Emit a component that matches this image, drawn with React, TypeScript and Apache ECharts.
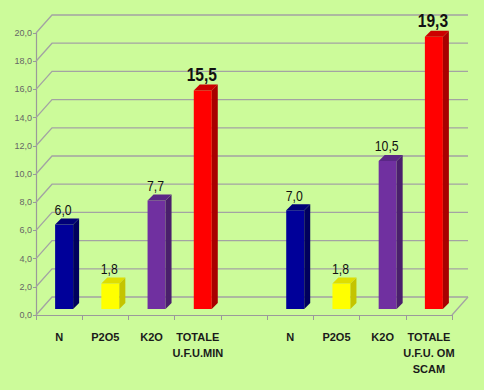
import React, { useEffect, useRef } from "react";
import * as echarts from "echarts";

const categories = ["N", "P2O5", "K2O", "TOTALE\nU.F.U.MIN", "", "N", "P2O5", "K2O", "TOTALE\nU.F.U. OM\nSCAM"];
const values: (number | null)[] = [6.0, 1.8, 7.7, 15.5, null, 7.0, 1.8, 10.5, 19.3];
const colorKeys = [0, 1, 2, 3, -1, 0, 1, 2, 3];
const yTicks = [0, 2, 4, 6, 8, 10, 12, 14, 16, 18, 20];

const PALETTE = [
  { front: "#000099", side: "#00005e", top: "#000078" },
  { front: "#ffff00", side: "#c4c400", top: "#dede00" },
  { front: "#7030a0", side: "#4a1f6c", top: "#5a2786" },
  { front: "#ff0000", side: "#a80000", top: "#cc0000" },
];

const NARROW = "'Liberation Sans Narrow', 'Arial Narrow', 'Liberation Sans', Arial, sans-serif";
const fmt = (v: number) => v.toFixed(1).replace(".", ",");

export default function App() {
  const ref = useRef<HTMLDivElement>(null);
  useEffect(() => {
    document.body.style.margin = "0";
    const chart = echarts.init(ref.current!, null, { renderer: "svg" });
    const barData = values
      .map((v, i) => (v == null ? null : [i, v, colorKeys[i]]))
      .filter((d) => d != null);
    const WDX = 16, WDY = -18;
    const SX = 5, SY = -6, BW = 18, DX = 6, DY = -6;
    chart.setOption({
      animation: false,
      backgroundColor: "#ccfb9a",
      grid: { left: 36, right: 32, top: 33, bottom: 75, containLabel: false },
      xAxis: {
        type: "category",
        data: categories,
        axisLine: { lineStyle: { color: "#9a9a9a", width: 1.2 } },
        axisTick: { show: true, length: 5, lineStyle: { color: "#9a9a9a" } },
        axisLabel: {
          interval: 0,
          margin: 14,
          color: "#1a1a1a",
          fontSize: 11,
          fontWeight: "bold",
          fontFamily: NARROW,
          lineHeight: 16,
        },
        splitLine: { show: false },
      },
      yAxis: {
        type: "value",
        min: 0,
        max: 20,
        interval: 2,
        axisLine: { show: true, lineStyle: { color: "#9a9a9a", width: 1.2 } },
        axisTick: { show: true, length: 3, lineStyle: { color: "#9a9a9a" } },
        axisLabel: { color: "#666666", fontSize: 9, fontFamily: NARROW, margin: 4, formatter: (v: number) => fmt(v) },
        splitLine: { show: false },
      },
      series: [
        {
          type: "custom",
          z: 1,
          silent: true,
          data: yTicks.map((t) => [0, t]),
          renderItem: (params: any, api: any) => {
            const cs = params.coordSys;
            const y = api.coord([0, api.value(1)])[1];
            const x0 = cs.x;
            const x1 = cs.x + cs.width;
            const children: any[] = [
              {
                type: "polyline",
                shape: { points: [[x0, y], [x0 + WDX, y + WDY], [x1 + WDX, y + WDY]] },
                style: { stroke: "#a3a3a3", lineWidth: 1.3, fill: null },
              },
            ];
            if (api.value(1) === 0) {
              children.push({
                type: "line",
                shape: { x1: x1, y1: y, x2: x1 + WDX, y2: y + WDY },
                style: { stroke: "#a3a3a3", lineWidth: 1.3 },
              });
            }
            return { type: "group", children };
          },
        },
        {
          type: "custom",
          z: 3,
          data: barData,
          renderItem: (params: any, api: any) => {
            const i = api.value(0);
            const v = api.value(1);
            const c = PALETTE[api.value(2)];
            const bold = api.value(2) === 3;
            const top = api.coord([i, v]);
            const base = api.coord([i, 0]);
            const cx = top[0] + SX;
            const l = cx - BW / 2;
            const r = cx + BW / 2;
            const ty = top[1] + SY;
            const by = base[1] + SY;
            return {
              type: "group",
              children: [
                { type: "rect", shape: { x: l, y: ty, width: BW, height: by - ty }, style: { fill: c.front } },
                {
                  type: "polygon",
                  shape: { points: [[r, ty], [r + DX, ty + DY], [r + DX, by + DY], [r, by]] },
                  style: { fill: c.side },
                },
                {
                  type: "polygon",
                  shape: { points: [[l, ty], [l + DX, ty + DY], [r + DX, ty + DY], [r, ty]] },
                  style: { fill: c.top },
                },
                {
                  type: "text",
                  x: cx - 1,
                  y: ty + DY - 1,
                  scaleX: 0.82,
                  style: {
                    text: fmt(v),
                    x: 0,
                    y: 0,
                    align: "center",
                    verticalAlign: "bottom",
                    fill: "#111111",
                    fontSize: bold ? 19 : 15,
                    fontWeight: bold ? "bold" : "normal",
                    fontFamily: NARROW,
                  },
                },
              ],
            };
          },
        },
      ],
    });
    return () => chart.dispose();
  }, []);
  return <div ref={ref} style={{ width: 484, height: 390 }} />;
}
